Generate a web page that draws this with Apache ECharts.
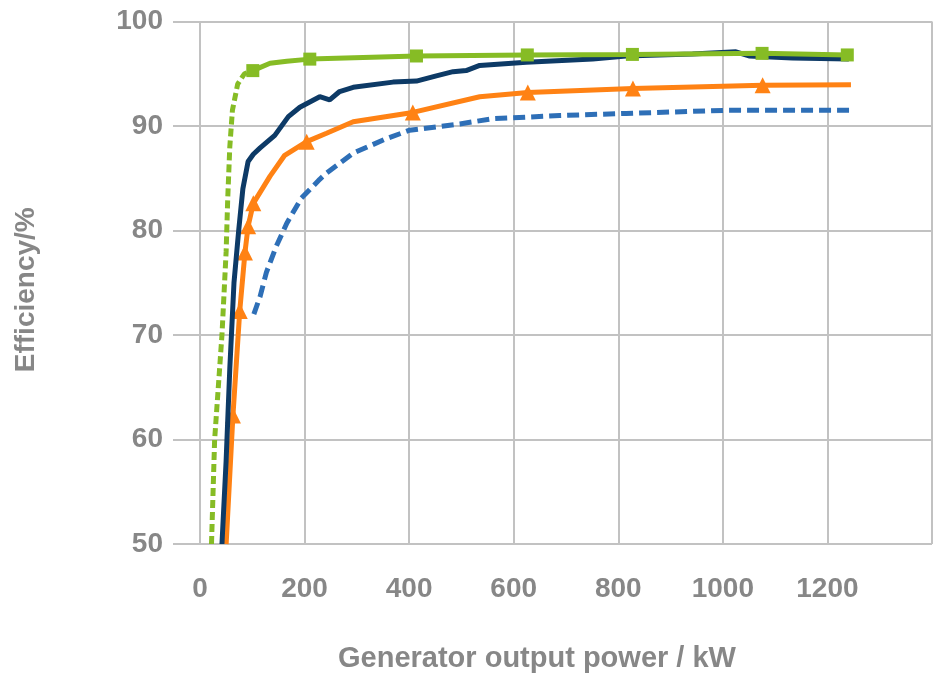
<!DOCTYPE html>
<html>
<head>
<meta charset="utf-8">
<title>Efficiency vs generator output power</title>
<script src="https://cdn.jsdelivr.net/npm/echarts@6/dist/echarts.min.js"></script>
<style>
  html, body { margin: 0; padding: 0; background: #fff; }
  #chart { width: 935px; height: 678px; }
</style>
</head>
<body>
<div id="chart"></div>
<script>
// axis ticks
const xTicks = [0, 200, 400, 600, 800, 1000, 1200, 1400]
const yTicks = [50, 60, 70, 80, 90, 100]

// green curve: dashed low-load part, then solid part with square markers
const greenDashed = [[22, 50], [28, 60], [35, 65], [42, 70], [50, 78], [53, 83], [57, 88], [62, 91.5], [72, 94], [85, 95], [101, 95.3]]
const greenSolid = [[101, 95.3], [134, 96.0], [166, 96.2], [210, 96.4], [414, 96.7], [626, 96.8], [827, 96.85], [1075, 96.95], [1238, 96.8]]
const greenMarkerX = [101, 210, 414, 626, 827, 1075, 1238]

// dark navy solid curve
const navy = [[42, 50], [50, 58], [57, 66.8], [65, 75], [74, 80], [82, 84], [92, 86.6], [102, 87.3], [115, 87.9], [143, 89.1], [169, 90.9], [191, 91.8], [229, 92.8], [248, 92.5], [267, 93.3], [293, 93.7], [369, 94.2], [414, 94.3], [452, 94.8], [484, 95.2], [509, 95.3], [535, 95.8], [624, 96.1], [751, 96.4], [815, 96.7], [942, 96.9], [1025, 97.1], [1050, 96.7], [1133, 96.5], [1241, 96.4]]

// orange curve with triangle markers
const orange = [[50, 50], [63, 62.3], [76, 72.3], [86, 77.9], [92, 80.4], [102, 82.6], [134, 85.2], [162, 87.2], [204, 88.5], [242, 89.3], [293, 90.4], [407, 91.3], [535, 92.8], [627, 93.2], [828, 93.6], [1076, 93.9], [1245, 93.95]]
const orangeMarkerX = [63, 76, 86, 92, 102, 204, 407, 627, 828, 1076]

// blue dashed curve
const blueDashed = [[103, 72], [115, 73.7], [127, 76.0], [146, 78.5], [166, 80.7], [194, 83.1], [229, 84.9], [242, 85.5], [293, 87.4], [357, 88.8], [401, 89.6], [497, 90.2], [560, 90.7], [688, 91.0], [815, 91.2], [1006, 91.5], [1245, 91.5]]

const gridColor = '#c2c2c2'
const textColor = '#878787'
const font = 'Liberation Sans'

// keep markers only on the listed x values
const withMarkers = (pts, markerX) =>
  pts.map(p => markerX.includes(p[0]) ? { value: p } : { value: p, symbol: 'none' })

const chart = echarts.init(document.getElementById('chart'))

chart.setOption({
  animation: false,
  grid: { left: 200, right: 2, top: 21.5, bottom: 131.5 },
  xAxis: {
    type: 'value',
    min: xTicks[0],
    max: xTicks[xTicks.length - 1],
    interval: 200,
    name: 'Generator output power / kW',
    nameLocation: 'middle',
    nameGap: 100,
    nameTextStyle: { fontFamily: font, fontWeight: 'bold', fontSize: 29, color: textColor, padding: [0, 58, 0, 0] },
    axisLine: { show: false },
    axisTick: { show: false },
    axisLabel: {
      margin: 31,
      fontFamily: font, fontWeight: 'bold', fontSize: 28, color: textColor,
      formatter: v => (v === 1400 ? '' : String(v))
    },
    splitLine: { show: true, lineStyle: { color: gridColor, width: 2 } }
  },
  yAxis: {
    type: 'value',
    min: yTicks[0],
    max: yTicks[yTicks.length - 1],
    interval: 10,
    name: 'Efficiency/%',
    nameLocation: 'middle',
    nameGap: 160,
    nameRotate: 90,
    nameTextStyle: { fontFamily: font, fontWeight: 'bold', fontSize: 28, color: textColor, padding: [0, 14, 0, 0] },
    axisLine: { show: false },
    axisTick: { show: true, length: 27, lineStyle: { color: gridColor, width: 2 } },
    axisLabel: { margin: 37, fontFamily: font, fontWeight: 'bold', fontSize: 28, color: textColor },
    splitLine: { show: true, lineStyle: { color: gridColor, width: 2 } }
  },
  series: [
    {
      type: 'line',
      data: blueDashed,
      symbol: 'none',
      lineStyle: { color: '#2e6fb7', width: 5, type: [12, 6] },
      z: 2
    },
    {
      type: 'line',
      data: withMarkers(orange, orangeMarkerX),
      symbol: 'triangle',
      symbolSize: 16,
      itemStyle: { color: '#ff8214' },
      lineStyle: { color: '#ff8214', width: 5 },
      z: 3
    },
    {
      type: 'line',
      data: navy,
      symbol: 'none',
      lineStyle: { color: '#0d3a66', width: 5 },
      z: 4
    },
    {
      type: 'line',
      data: greenDashed,
      symbol: 'none',
      lineStyle: { color: '#86bc25', width: 5, type: [8, 4] },
      z: 5
    },
    {
      type: 'line',
      data: withMarkers(greenSolid, greenMarkerX),
      symbol: 'rect',
      symbolSize: 13,
      itemStyle: { color: '#86bc25' },
      lineStyle: { color: '#86bc25', width: 5 },
      z: 5
    }
  ]
})
</script>
</body>
</html>
